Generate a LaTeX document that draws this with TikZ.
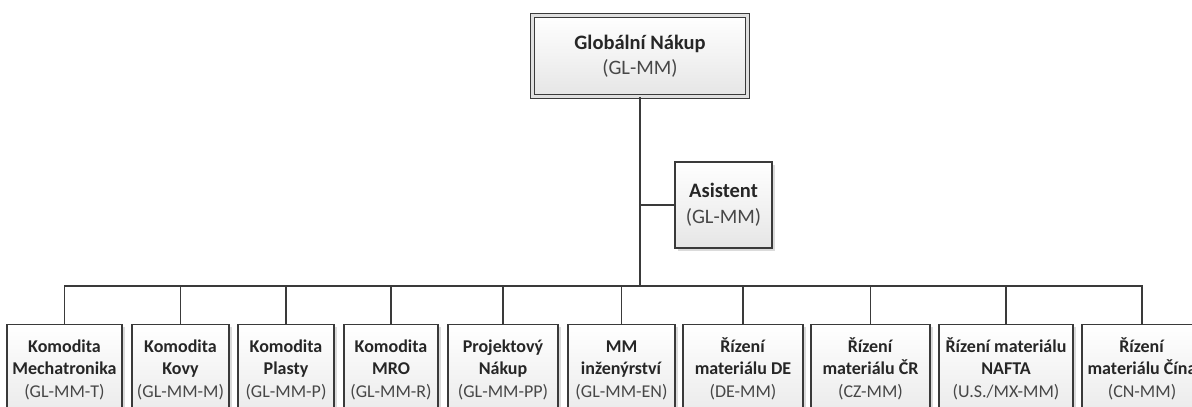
\documentclass[tikz,border=0pt]{standalone}
\usepackage{fontspec}
\setmainfont{Carlito}
\usetikzlibrary{shadows}

\definecolor{edge}{HTML}{3A3A3A}
\definecolor{ink}{HTML}{262626}
\definecolor{inksub}{HTML}{474747}

% three-line unit caption: two bold lines and a regular code line
\newcommand{\unitcaption}[3]{\textbf{\vphantom{Ř}#1}\\\textbf{#2}\\{\color{inksub}#3}}

\tikzset{
  unitbox/.style={draw=edge, line width=1.3pt, top color=white, bottom color=black!10,
    drop shadow={shadow xshift=2.5pt, shadow yshift=-2.5pt, fill=black!35, opacity=0.4}},
  headbox/.style={unitbox, line width=1.1pt, double=black!12, double distance=3pt,
    minimum width=215pt, minimum height=81pt, inner sep=0pt, align=center, text=ink,
    font=\fontsize{20.5}{25}\selectfont},
  assistbox/.style={unitbox, minimum width=97pt, minimum height=86pt, inner sep=0pt,
    align=center, text=ink, font=\fontsize{20.5}{26}\selectfont},
  leafbox/.style={unitbox, anchor=north, minimum height=110pt, inner sep=0pt},
  leaftext/.style={anchor=north, yshift=-13pt, inner sep=0pt, align=center, text=ink,
    font=\fontsize{18}{22.5}\selectfont},
  wire/.style={draw=edge, line width=1.4pt}
}

\begin{document}
\begin{tikzpicture}[x=1pt, y=-1pt]
  \useasboundingbox[fill=white] (0,0) rectangle (1192,407);

  % head of the department and the assistant
  \node[headbox] (head) at (640,56) {\textbf{Globální Nákup}\\{\color{inksub}(GL-MM)}};
  \node[assistbox] (asst) at (723.5,205) {\textbf{Asistent}\\{\color{inksub}(GL-MM)}};

  % subordinate units
  \node[leafbox, minimum width=115pt, label={[leaftext]north:{\unitcaption{Komodita}{Mechatronika}{(GL-MM-T)}}}] (u1) at (64.5,324) {};
  \node[leafbox, minimum width=97pt,  label={[leaftext]north:{\unitcaption{Komodita}{Kovy}{(GL-MM-M)}}}] (u2) at (180.5,324) {};
  \node[leafbox, minimum width=96pt,  label={[leaftext]north:{\unitcaption{Komodita}{Plasty}{(GL-MM-P)}}}] (u3) at (286,324) {};
  \node[leafbox, minimum width=94pt,  label={[leaftext]north:{\unitcaption{Komodita}{MRO}{(GL-MM-R)}}}] (u4) at (391,324) {};
  \node[leafbox, minimum width=110pt, label={[leaftext]north:{\unitcaption{Projektový}{Nákup}{(GL-MM-PP)}}}] (u5) at (503,324) {};
  \node[leafbox, minimum width=107pt, label={[leaftext]north:{\unitcaption{MM}{inženýrství}{(GL-MM-EN)}}}] (u6) at (621.5,324) {};
  \node[leafbox, minimum width=120pt, label={[leaftext]north:{\unitcaption{Řízení}{materiálu DE}{(DE-MM)}}}] (u7) at (743,324) {};
  \node[leafbox, minimum width=119pt, label={[leaftext]north:{\unitcaption{Řízení}{materiálu ČR}{(CZ-MM)}}}] (u8) at (870.5,324) {};
  \node[leafbox, minimum width=134pt, label={[leaftext]north:{\unitcaption{Řízení materiálu}{NAFTA}{(U.S./MX-MM)}}}] (u9) at (1006,324) {};
  \node[leafbox, minimum width=120pt, label={[leaftext]north:{\unitcaption{Řízení}{materiálu Čína}{(CN-MM)}}}] (u10) at (1142,324) {};

  % connectors
  \coordinate (bus) at (640,286);
  \draw[wire] (head.south) -- (bus);
  \draw[wire] (asst.west) -- (asst.west -| head.south);
  \draw[wire] (u1.north) -- (u1.north |- bus) -- (u10.north |- bus) -- (u10.north);
  \foreach \k in {2,...,9} {
    \draw[wire] (u\k.north) -- (u\k.north |- bus);
  }
\end{tikzpicture}
\end{document}
